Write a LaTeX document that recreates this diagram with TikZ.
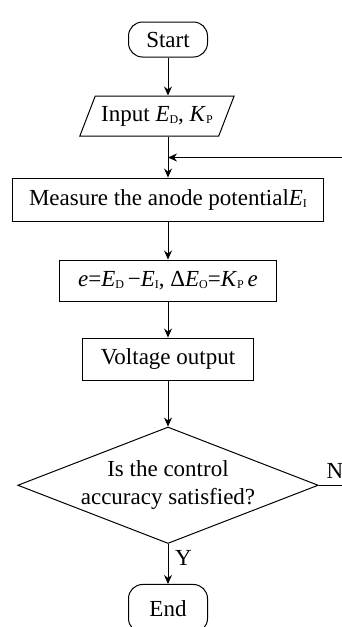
\documentclass[tikz,border=0pt]{standalone}
\usepackage{fontspec}
\setmainfont{Liberation Serif}
\usetikzlibrary{shapes.geometric,arrows.meta,positioning}

\newcommand{\lowsub}[1]{\raisebox{-1pt}{\fontsize{6}{6}\selectfont #1}}

\tikzset{
  flowbox/.style={rectangle, draw, line width=0.5pt, inner sep=2pt, minimum height=21.5pt},
  terminal/.style={rectangle, rounded corners=7pt, draw, line width=0.5pt, minimum width=39.5pt},
  iobox/.style={trapezium, trapezium left angle=59, trapezium right angle=121, trapezium stretches=true, draw, line width=0.5pt, inner sep=1pt},
  decision/.style={diamond, draw, line width=0.5pt, aspect=2.58, inner sep=0pt, align=center},
  flow/.style={->, line width=0.5pt}
}

\begin{document}
\begin{tikzpicture}[x=0.5pt, y=-0.5pt, >={Stealth[length=4.5pt,width=4pt]}, every node/.style={font=\fontsize{11.5}{14}\selectfont}]
\useasboundingbox (0,0) rectangle (342,627);

\node (start) [terminal, minimum height=17.5pt] at (168,39.5) {Start};
\node (input) [iobox, minimum width=77.5pt, minimum height=20pt, below=19pt of start, xshift=-5.5pt] {Input \textit{E}\lowsub{D}, \textit{K}\lowsub{P}};
\node (measure) [flowbox, minimum width=155.5pt, below=20.5pt of input, xshift=5.5pt] {Measure the anode potential\textit{E}\lowsub{I}};
\node (formula) [flowbox, minimum width=108.5pt, minimum height=20.5pt, below=19pt of measure] {\textit{e}=\textit{E}\lowsub{D}\,−\textit{E}\lowsub{I}, Δ\textit{E}\lowsub{O}=\textit{K}\lowsub{P}\,\textit{e}};
\node (output) [flowbox, minimum width=85.5pt, minimum height=21pt, below=18pt of formula] {Voltage output};
\node (check) [decision, minimum width=148.5pt, minimum height=57.5pt, below=23pt of output] {Is the control\\accuracy satisfied?};
\node (end) [terminal, minimum height=24pt, below=20pt of check] {End};

\coordinate (loop) at ([yshift=10pt]measure.north);
\coordinate (edge) at (342,0);

\draw [flow] (start) -- (start |- input.north);
\draw [line width=0.5pt] (start |- input.south) -- (loop);
\draw [flow] (loop) -- (measure);
\draw [flow] (measure) -- (formula);
\draw [flow] (formula) -- (output);
\draw [flow] (output) -- (check);
\draw [flow] (check) -- node[right, pos=0.36]{Y} (end);
\draw [line width=0.5pt] (check.east) -- node[above, pos=0.7]{N} (check.east -| edge);
\draw [flow] (loop -| edge) -- (loop);
\end{tikzpicture}
\end{document}
